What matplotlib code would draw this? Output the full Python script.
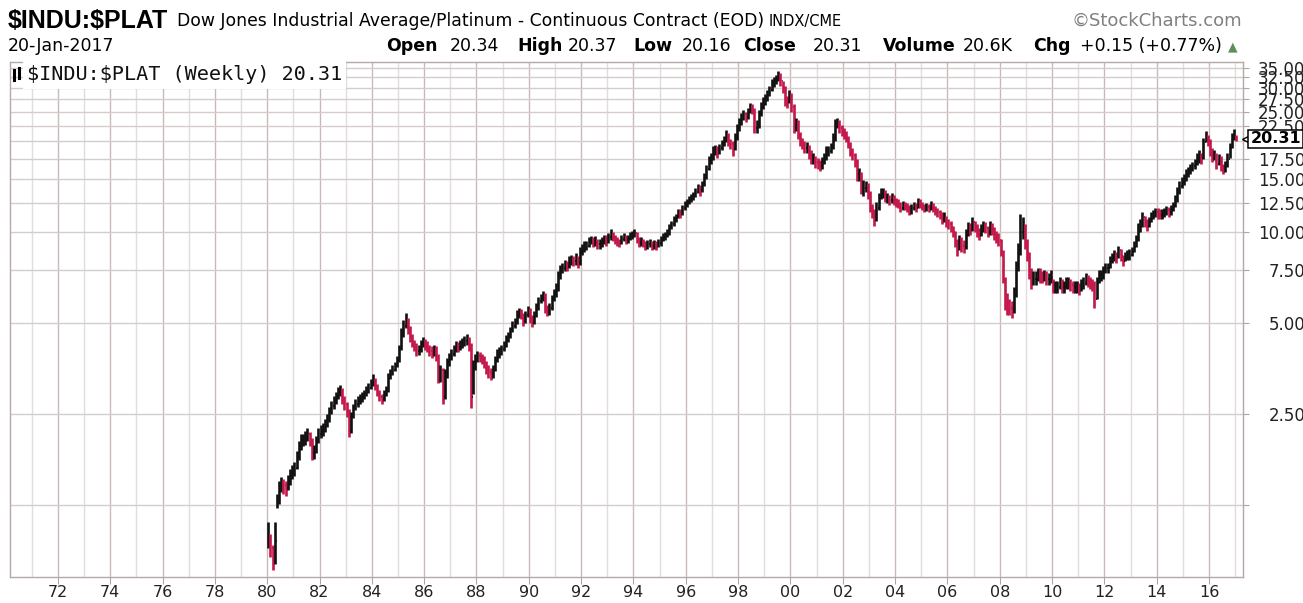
import numpy as np
import pandas as pd
import matplotlib
matplotlib.use("Agg")
import matplotlib.pyplot as plt
import matplotlib.dates as mdates
from matplotlib.ticker import FixedLocator, FixedFormatter
from matplotlib.lines import Line2D
import matplotlib.transforms as mtrans

# monthly bars, Jan 1980 .. Jan 2017
close = [
    0.98, 0.90, 0.82, 0.95, 1.30, 1.42, 1.48, 1.45, 1.42, 1.50, 1.55, 1.62,  # 1980
    1.66, 1.80, 1.95, 2.05, 2.05, 2.10, 2.15, 2.05, 1.85, 1.90, 2.05, 2.15,  # 1981
    2.20, 2.25, 2.30, 2.40, 2.55, 2.65, 2.75, 2.85, 2.95, 3.00, 2.80, 2.70,  # 1982
    2.55, 2.20, 2.45, 2.60, 2.70, 2.75, 2.80, 2.85, 2.90, 3.00, 3.05, 3.15,  # 1983
    3.25, 3.10, 2.95, 2.85, 2.80, 2.90, 3.00, 3.30, 3.40, 3.50, 3.60, 3.75,  # 1984
    4.10, 4.60, 4.90, 5.10, 4.80, 4.50, 4.30, 4.20, 4.05, 4.10, 4.25, 4.35,  # 1985
    4.25, 4.15, 4.05, 4.00, 4.10, 3.90, 3.30, 3.50, 2.85, 3.40, 3.70, 3.85,  # 1986
    3.95, 4.10, 4.20, 4.15, 4.25, 4.30, 4.35, 4.40, 4.20, 2.85, 3.60, 3.80,  # 1987
    3.90, 3.85, 3.80, 3.70, 3.55, 3.45, 3.40, 3.50, 3.75, 3.95, 4.00, 4.10,  # 1988
    4.20, 4.40, 4.50, 4.70, 4.90, 5.00, 5.30, 5.40, 5.30, 5.10, 5.30, 5.50,  # 1989
    5.20, 5.00, 5.30, 5.60, 5.90, 6.00, 6.20, 5.60, 5.50, 5.60, 6.00, 6.30,  # 1990
    6.50, 7.10, 7.50, 7.60, 7.80, 7.70, 8.00, 8.10, 8.00, 8.20, 7.90, 8.60,  # 1991
    8.80, 9.00, 9.00, 9.30, 9.40, 9.20, 9.40, 9.10, 9.20, 9.30, 9.50, 9.40,  # 1992
    9.60, 9.80, 9.60, 9.40, 9.30, 9.20, 9.50, 9.60, 9.40, 9.50, 9.70, 9.80,  # 1993
    9.90, 9.50, 9.20, 9.30, 9.20, 9.00, 9.10, 9.20, 9.00, 9.10, 9.00, 9.20,  # 1994
    9.40, 9.60, 9.70, 9.90, 10.3, 10.6, 11.0, 11.2, 11.6, 11.5, 12.0, 12.4,  # 1995
    12.6, 12.8, 13.0, 13.2, 13.6, 14.0, 13.8, 14.3, 15.2, 16.2, 17.3, 17.5,  # 1996
    18.5, 18.8, 18.3, 19.0, 19.5, 20.0, 21.0, 19.8, 19.5, 18.8, 20.5, 22.0,  # 1997
    23.0, 24.0, 24.5, 24.0, 25.0, 26.0, 25.5, 22.0, 22.5, 24.5, 26.0, 27.0,  # 1998
    27.5, 28.5, 29.5, 31.0, 31.5, 32.0, 33.0, 31.5, 30.0, 27.5, 27.0, 28.5,  # 1999
    26.0, 22.0, 23.0, 21.0, 20.0, 19.5, 19.0, 19.0, 18.0, 17.5, 17.5, 17.0,  # 2000
    16.8, 16.5, 17.0, 17.5, 18.5, 18.5, 19.0, 20.5, 22.5, 23.0, 22.0, 21.5,  # 2001
    21.0, 20.5, 19.5, 18.5, 18.0, 17.0, 15.5, 15.5, 14.0, 14.0, 14.2, 13.5,  # 2002
    12.0, 11.5, 11.0, 12.0, 13.0, 13.5, 13.5, 13.0, 13.0, 12.8, 13.0, 12.8,  # 2003
    12.5, 12.4, 12.0, 12.3, 12.2, 12.0, 11.8, 12.0, 12.2, 12.0, 12.6, 12.4,  # 2004
    12.2, 12.0, 12.1, 12.0, 12.3, 12.0, 11.8, 11.6, 11.4, 11.0, 11.2, 10.8,  # 2005
    10.6, 10.4, 10.0, 9.30, 8.80, 9.40, 9.00, 8.90, 9.80, 10.4, 10.2, 10.8,  # 2006
    10.4, 10.0, 9.80, 10.2, 10.5, 10.3, 10.0, 10.4, 10.2, 9.80, 9.60, 9.40,  # 2007
    8.60, 7.00, 6.20, 5.80, 5.60, 5.50, 6.20, 7.60, 8.50, 10.0, 10.5, 9.20,  # 2008
    8.50, 7.20, 7.00, 7.00, 7.00, 7.30, 7.20, 7.10, 7.20, 7.00, 7.00, 7.20,  # 2009
    6.60, 6.60, 6.60, 6.80, 6.60, 6.60, 6.80, 6.80, 6.70, 6.60, 6.60, 6.60,  # 2010
    6.50, 6.70, 6.80, 7.00, 6.90, 6.80, 6.70, 6.00, 6.80, 7.20, 7.20, 7.40,  # 2011
    7.60, 7.60, 8.00, 8.20, 8.40, 8.20, 8.70, 8.30, 8.00, 8.30, 8.40, 8.40,  # 2012
    8.60, 8.90, 9.40, 10.3, 10.5, 11.2, 10.8, 10.5, 10.8, 11.2, 11.4, 11.6,  # 2013
    11.5, 11.4, 11.4, 11.6, 11.8, 11.6, 11.8, 12.2, 12.8, 13.5, 14.2, 14.6,  # 2014
    15.0, 15.6, 15.8, 16.2, 16.5, 16.8, 17.6, 17.8, 17.5, 19.8, 20.8, 20.0,  # 2015
    18.6, 17.8, 18.0, 16.8, 17.5, 16.5, 16.0, 16.5, 17.5, 19.0, 20.5, 21.0,  # 2016
    20.31,                                                                   # 2017
]

high = [
    1.10, 1.00, 0.92, 1.10, 1.36, 1.50, 1.55, 1.52, 1.50, 1.57, 1.64, 1.70,
    1.74, 1.88, 2.04, 2.14, 2.14, 2.20, 2.24, 2.18, 2.08, 1.98, 2.12, 2.24,
    2.30, 2.34, 2.40, 2.50, 2.64, 2.76, 2.86, 2.96, 3.06, 3.12, 3.04, 2.86,
    2.74, 2.60, 2.54, 2.70, 2.80, 2.86, 2.90, 2.96, 3.00, 3.10, 3.16, 3.26,
    3.38, 3.30, 3.14, 3.00, 2.92, 3.00, 3.10, 3.42, 3.52, 3.62, 3.72, 3.88,
    4.24, 4.80, 5.10, 5.40, 5.20, 4.90, 4.60, 4.40, 4.30, 4.24, 4.40, 4.50,
    4.44, 4.36, 4.24, 4.18, 4.24, 4.20, 3.96, 3.64, 3.56, 3.52, 3.82, 3.98,
    4.10, 4.24, 4.36, 4.34, 4.40, 4.46, 4.52, 4.58, 4.50, 4.30, 3.76, 3.94,
    4.04, 4.00, 3.96, 3.88, 3.74, 3.62, 3.56, 3.64, 3.88, 4.10, 4.16, 4.24,
    4.36, 4.56, 4.66, 4.86, 5.06, 5.18, 5.50, 5.60, 5.54, 5.40, 5.46, 5.70,
    5.60, 5.30, 5.46, 5.80, 6.10, 6.24, 6.40, 6.30, 5.74, 5.80, 6.20, 6.50,
    6.80, 7.40, 7.80, 7.90, 8.10, 8.00, 8.30, 8.40, 8.30, 8.50, 8.30, 8.90,
    9.10, 9.30, 9.30, 9.60, 9.70, 9.60, 9.70, 9.50, 9.50, 9.60, 9.80, 9.80,
    9.90, 10.2, 10.0, 9.80, 9.60, 9.50, 9.80, 9.90, 9.80, 9.80, 10.0, 10.1,
    10.2, 10.0, 9.60, 9.60, 9.50, 9.30, 9.40, 9.50, 9.30, 9.40, 9.30, 9.50,
    9.70, 9.90, 10.0, 10.2, 10.6, 10.9, 11.3, 11.5, 11.9, 11.9, 12.3, 12.7,
    12.9, 13.2, 13.4, 13.6, 14.0, 14.4, 14.3, 14.7, 15.7, 16.7, 17.9, 18.2,
    19.2, 19.4, 19.2, 19.6, 20.2, 20.7, 21.7, 21.3, 20.3, 20.0, 21.2, 22.8,
    23.8, 24.8, 25.4, 25.0, 25.8, 26.8, 26.5, 25.8, 23.5, 25.3, 26.9, 27.9,
    28.5, 29.4, 30.5, 32.0, 32.5, 33.0, 34.2, 33.5, 31.6, 30.5, 28.2, 29.6,
    28.8, 26.5, 23.8, 23.4, 21.4, 20.5, 20.0, 19.8, 19.4, 18.6, 18.2, 17.9,
    17.6, 17.3, 17.7, 18.2, 19.2, 19.2, 19.7, 21.2, 23.6, 23.8, 23.4, 22.6,
    22.0, 21.5, 20.8, 19.8, 18.9, 18.2, 17.4, 16.3, 15.8, 14.9, 14.8, 14.5,
    13.7, 12.4, 11.9, 12.6, 13.5, 14.0, 14.0, 13.8, 13.5, 13.3, 13.5, 13.3,
    13.0, 12.9, 12.6, 12.7, 12.6, 12.5, 12.3, 12.4, 12.6, 12.5, 13.0, 12.9,
    12.6, 12.4, 12.5, 12.4, 12.7, 12.5, 12.2, 12.0, 11.8, 11.6, 11.6, 11.3,
    11.0, 10.9, 10.5, 10.1, 9.50, 9.80, 9.60, 9.40, 10.2, 10.8, 10.7, 11.2,
    10.9, 10.6, 10.3, 10.6, 10.9, 10.8, 10.5, 10.9, 10.7, 10.4, 10.1, 9.90,
    9.50, 8.70, 7.10, 6.30, 6.00, 5.90, 6.60, 8.00, 9.20, 11.5, 11.2, 10.6,
    9.50, 8.60, 7.60, 7.40, 7.40, 7.60, 7.60, 7.40, 7.50, 7.40, 7.30, 7.50,
    7.00, 6.90, 6.90, 7.10, 7.00, 6.90, 7.10, 7.10, 7.00, 6.90, 6.90, 6.90,
    6.80, 7.00, 7.10, 7.30, 7.20, 7.10, 7.00, 6.90, 7.10, 7.50, 7.50, 7.70,
    7.90, 7.90, 8.30, 8.50, 8.70, 8.60, 9.00, 8.80, 8.40, 8.60, 8.70, 8.80,
    8.90, 9.30, 9.80, 10.7, 11.0, 11.6, 11.3, 11.0, 11.2, 11.6, 11.8, 12.0,
    12.0, 11.9, 11.9, 12.0, 12.2, 12.1, 12.3, 12.6, 13.3, 14.1, 14.7, 15.2,
    15.6, 16.2, 16.4, 16.8, 17.1, 17.4, 18.2, 18.6, 18.3, 20.4, 21.6, 21.0,
    20.3, 19.0, 18.6, 18.2, 18.1, 17.8, 16.8, 17.2, 18.2, 19.7, 21.3, 21.9,
    20.9,
]

low = [
    0.90, 0.84, 0.76, 0.80, 1.22, 1.26, 1.38, 1.36, 1.34, 1.40, 1.46, 1.52,
    1.56, 1.64, 1.76, 1.90, 1.96, 1.98, 2.04, 1.96, 1.76, 1.78, 1.86, 2.00,
    2.08, 2.12, 2.18, 2.26, 2.36, 2.50, 2.60, 2.70, 2.80, 2.86, 2.70, 2.58,
    2.44, 2.10, 2.16, 2.42, 2.58, 2.64, 2.70, 2.74, 2.80, 2.86, 2.94, 3.02,
    3.10, 3.00, 2.86, 2.76, 2.70, 2.76, 2.86, 2.96, 3.26, 3.36, 3.46, 3.58,
    3.70, 4.06, 4.50, 4.80, 4.60, 4.34, 4.16, 4.04, 3.90, 3.92, 4.02, 4.16,
    4.06, 4.00, 3.90, 3.84, 3.90, 3.74, 3.16, 3.20, 2.70, 2.80, 3.30, 3.60,
    3.78, 3.90, 4.02, 4.00, 4.06, 4.14, 4.20, 4.22, 4.04, 2.62, 2.90, 3.50,
    3.72, 3.70, 3.66, 3.56, 3.40, 3.30, 3.24, 3.30, 3.46, 3.70, 3.84, 3.92,
    4.04, 4.16, 4.34, 4.46, 4.66, 4.80, 4.96, 5.20, 5.14, 4.90, 5.00, 5.24,
    5.00, 4.84, 4.96, 5.24, 5.50, 5.80, 5.90, 5.40, 5.26, 5.30, 5.50, 5.90,
    6.10, 6.40, 7.00, 7.30, 7.40, 7.40, 7.60, 7.80, 7.70, 7.80, 7.60, 7.80,
    8.40, 8.60, 8.70, 8.90, 9.10, 8.90, 9.00, 8.80, 8.80, 8.90, 9.10, 9.00,
    9.20, 9.40, 9.30, 9.10, 9.00, 8.90, 9.10, 9.30, 9.10, 9.20, 9.40, 9.50,
    9.60, 9.20, 8.90, 9.00, 8.90, 8.70, 8.80, 8.90, 8.70, 8.80, 8.70, 8.90,
    9.00, 9.30, 9.40, 9.60, 9.80, 10.2, 10.5, 10.8, 11.1, 11.1, 11.4, 11.8,
    12.1, 12.4, 12.6, 12.8, 13.1, 13.5, 13.2, 13.6, 14.2, 15.0, 16.0, 16.8,
    17.3, 18.0, 17.6, 18.1, 18.7, 19.3, 19.9, 19.2, 18.8, 17.8, 18.6, 20.2,
    21.6, 22.6, 23.5, 23.1, 23.7, 24.8, 24.6, 21.2, 21.3, 22.0, 24.2, 25.6,
    26.3, 27.2, 28.1, 29.2, 30.2, 30.8, 31.5, 30.3, 28.8, 26.2, 25.8, 26.8,
    25.0, 21.3, 21.6, 20.3, 19.3, 18.8, 18.3, 18.2, 17.4, 16.8, 16.8, 16.3,
    16.2, 15.9, 16.2, 16.8, 17.3, 17.8, 18.2, 18.8, 20.0, 22.0, 21.2, 20.8,
    20.3, 19.8, 18.9, 17.9, 17.3, 16.4, 14.8, 14.8, 13.4, 13.2, 13.6, 12.9,
    11.6, 11.1, 10.5, 10.9, 11.8, 12.9, 13.0, 12.6, 12.5, 12.3, 12.5, 12.3,
    12.1, 12.0, 11.6, 11.8, 11.8, 11.6, 11.4, 11.5, 11.8, 11.6, 12.0, 12.0,
    11.8, 11.6, 11.7, 11.6, 11.8, 11.6, 11.4, 11.2, 11.0, 10.6, 10.8, 10.4,
    10.2, 10.0, 9.60, 8.90, 8.30, 8.70, 8.60, 8.50, 8.80, 9.70, 9.80, 10.1,
    10.0, 9.60, 9.40, 9.70, 10.0, 9.90, 9.60, 9.80, 9.80, 9.40, 9.20, 9.00,
    8.30, 6.80, 5.50, 5.30, 5.30, 5.20, 5.40, 6.10, 7.40, 8.40, 9.50, 8.80,
    8.00, 7.00, 6.50, 6.70, 6.70, 6.90, 6.80, 6.80, 6.90, 6.70, 6.70, 6.80,
    6.30, 6.30, 6.30, 6.50, 6.30, 6.30, 6.50, 6.50, 6.40, 6.30, 6.30, 6.30,
    6.20, 6.40, 6.50, 6.70, 6.60, 6.50, 6.40, 5.60, 6.00, 6.80, 6.90, 7.00,
    7.30, 7.30, 7.60, 7.90, 8.00, 7.90, 8.20, 8.00, 7.70, 8.00, 8.10, 8.10,
    8.30, 8.60, 8.90, 9.30, 10.0, 10.4, 10.4, 10.1, 10.4, 10.8, 11.0, 11.2,
    11.0, 11.0, 11.0, 11.2, 11.4, 11.2, 11.4, 11.7, 12.1, 12.6, 13.4, 14.0,
    14.3, 14.8, 15.2, 15.6, 15.9, 16.2, 16.7, 16.9, 16.8, 17.4, 19.8, 19.3,
    17.8, 17.1, 17.3, 16.2, 16.7, 15.9, 15.5, 15.8, 16.4, 17.6, 19.0, 20.2,
    20.0,
]

year_ticks = list(range(1972, 2017, 2))
year_labels = ["%02d" % (y % 100) for y in year_ticks]
odd_years = list(range(1971, 2018, 2))
grid_prices = [1.25, 2.5, 5, 7.5, 10, 12.5, 15, 17.5, 20, 22.5, 25, 27.5, 30, 32.5, 35]
price_labels = ["", "2.50", "5.00", "7.50", "10.00", "12.50", "15.00", "17.50", "",
                "22.50", "25.00", "27.50", "30.00", "32.50", "35.00"]
last_close = 20.31

close = np.array(close)
high = np.array(high)
low = np.array(low)
dates = pd.date_range("1980-01-01", periods=len(close), freq="MS") + pd.Timedelta(days=14)
prev = np.r_[close[0], close[:-1]]

W, H = 1303, 603
fig = plt.figure(figsize=(W / 100, H / 100), dpi=100)
fig.patch.set_facecolor("white")
ax = fig.add_axes([10 / W, 26 / H, 1233 / W, 515 / H])

colors = np.where(close >= prev, "#111111", "#c4174a")
tick = pd.Timedelta(days=9)
ax.vlines(dates, low, high, colors=colors, lw=1.9, zorder=3)
ax.hlines(prev, dates - tick, dates, colors=colors, lw=1.3, zorder=3)
ax.hlines(close, dates, dates + tick, colors=colors, lw=1.3, zorder=3)

ax.set_yscale("log")
ax.set_ylim(0.722, 36.5)
ax.set_xlim(pd.Timestamp("1970-03-03"), pd.Timestamp("2017-04-20"))

ax.xaxis.set_major_locator(FixedLocator([mdates.date2num(pd.Timestamp(y, 1, 1)) for y in year_ticks]))
ax.xaxis.set_major_formatter(FixedFormatter(year_labels))
ax.xaxis.set_minor_locator(FixedLocator([mdates.date2num(pd.Timestamp(y, 1, 1)) for y in odd_years]))

ax.yaxis.tick_right()
ax.yaxis.set_major_locator(FixedLocator(grid_prices))
ax.yaxis.set_major_formatter(FixedFormatter(price_labels))
ax.yaxis.set_minor_locator(FixedLocator([]))

ax.grid(which="major", axis="x", color="#cbb9b9", lw=1.0, zorder=0)
ax.grid(which="minor", axis="x", color="#e2dcdc", lw=1.0, zorder=0)
ax.grid(which="major", axis="y", color="#d6cccc", lw=1.0, zorder=0)

ax.tick_params(axis="x", which="major", length=5, color="#b0a4a4", labelsize=11.5,
               labelcolor="#222222", pad=1)
ax.tick_params(axis="x", which="minor", length=0)
ax.tick_params(axis="y", which="major", length=4, color="#b0a4a4", labelsize=12,
               labelcolor="#222222", pad=41)
for lab in ax.get_yticklabels():
    lab.set_horizontalalignment("right")

for s in ax.spines.values():
    s.set_color("#b4a8a8")
    s.set_linewidth(1.0)

# last value tag on the price axis
tag = mtrans.blended_transform_factory(ax.transAxes, ax.transData)
ax.plot([1.006], [last_close], transform=tag, marker="<", ms=11, mfc="white",
        mec="black", mew=1.0, clip_on=False, zorder=5)
ax.text(1.0265, last_close, "%.2f" % last_close, transform=tag, ha="center", va="center",
        fontsize=11.5, fontweight="bold", color="black", zorder=6,
        bbox=dict(boxstyle="square,pad=0.12", fc="white", ec="black", lw=1.1))

# legend strip
ax.text(17 / 1233, 1 - 13 / 515, "$INDU:$PLAT (Weekly) 20.31", transform=ax.transAxes,
        ha="left", va="center", fontsize=14.5, family="DejaVu Sans Mono", color="#111111",
        parse_math=False, zorder=6,
        bbox=dict(boxstyle="square,pad=0.2", fc="white", ec="none"))
for x0, y0, y1 in [(14, 70, 80), (19, 68, 78)]:
    fig.add_artist(Line2D([x0 / W, x0 / W], [1 - y1 / H, 1 - y0 / H], color="black", lw=2.2))


def px(x, y):
    return x / W, 1 - y / H


# header
fig.text(*px(8, 28), "$INDU:$PLAT", fontsize=18, fontweight="bold",
         family="Liberation Sans", parse_math=False)
fig.text(*px(177, 26), "Dow Jones Industrial Average/Platinum - Continuous Contract (EOD)",
         fontsize=12.4)
fig.text(*px(769, 26), "INDX/CME", fontsize=10.5)
fig.text(*px(1242, 26), "\u00a9StockCharts.com", fontsize=13, color="#808080", ha="right")
fig.text(*px(8, 51), "20-Jan-2017", fontsize=12.5)

row = [("Open", True, 386), ("20.34", False, 450), ("High", True, 517), ("20.37", False, 568),
       ("Low", True, 633), ("20.16", False, 682), ("Close", True, 743), ("20.31", False, 813),
       ("Volume", True, 883), ("20.6K", False, 963), ("Chg", True, 1033),
       ("+0.15 (+0.77%)", False, 1080)]
for txt, bold, x in row:
    fig.text(*px(x, 51), txt, fontsize=12.5, fontweight="bold" if bold else "normal")
fig.text(*px(1228, 50), "\u25b2", fontsize=9, color="#5b8f5b")

plt.savefig("out.png", dpi=100)
